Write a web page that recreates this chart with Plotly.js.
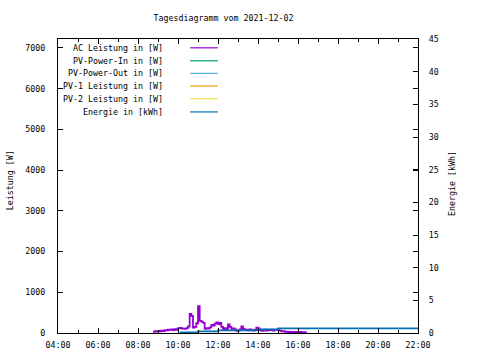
<!DOCTYPE html>
<html>
<head>
<meta charset="utf-8">
<script src="https://cdn.plot.ly/plotly-3.0.1.min.js"></script>
<style>html,body{margin:0;padding:0;background:#fff}#chart{width:480px;height:360px}</style>
</head>
<body>
<div id="chart"></div>
<script>
// ---- data ----
var day = "2021-12-02 ";
var acTimes = ["08:45","08:50","08:55","09:00","09:05","09:10","09:15","09:20","09:25","09:30","09:35","09:40","09:45","09:50","09:55",
  "10:00","10:05","10:10","10:15","10:20","10:25","10:30","10:35","10:40","10:45","10:50","10:55",
  "11:00","11:05","11:10","11:15","11:20","11:25","11:30","11:35","11:40","11:45","11:50","11:55",
  "12:00","12:05","12:10","12:15","12:20","12:25","12:30","12:35","12:40","12:45","12:50","12:55",
  "13:00","13:05","13:10","13:15","13:20","13:25","13:30","13:35","13:40","13:45","13:50","13:55",
  "14:00","14:05","14:10","14:15","14:20","14:25","14:30","14:35","14:40","14:45","14:50","14:55",
  "15:00","15:05","15:10","15:15","15:20","15:25","15:30","15:35","15:40","15:45","15:50","15:55",
  "16:00","16:05","16:10","16:15","16:20","16:25"];
var acPower = [30,45,35,50,40,55,45,70,65,80,75,90,70,95,80,
  120,125,110,105,100,120,160,470,420,130,150,240,
  660,300,280,250,100,120,110,140,200,180,230,260,
  220,250,150,90,120,80,210,150,100,110,90,50,
  60,90,160,100,70,80,65,90,70,60,80,130,
  110,70,50,60,80,60,75,70,80,60,75,85,
  70,60,40,45,30,35,25,30,20,25,20,30,
  20,25,15,20,15,10];
var energyTimes = ["10:05","11:00","12:00","14:00","15:00","22:00"];
var energyKWh = [0.10,0.26,0.41,0.56,0.71,0.71];
var pvInTimes = [], pvInPower = [];
var pvOutTimes = [], pvOutPower = [];
var pv1Times = [], pv1Power = [];
var pv2Times = [], pv2Power = [];

var seriesNames = ["AC Leistung in [W]","PV-Power-In in [W]","PV-Power-Out in [W]","PV-1 Leistung in [W]","PV-2 Leistung in [W]","Energie in [kWh]"];
var seriesColors = ["#9400d3","#009e73","#56b4e9","#e69f00","#f0e442","#0072b2"];
var yTickVals = [0,1000,2000,3000,4000,5000,6000,7000];
var y2TickVals = [0,5,10,15,20,25,30,35,40,45];

function ts(arr){ return arr.map(function(t){ return day + t; }); }

var FONT = "DejaVu Sans Mono, Liberation Mono, monospace";
var fs = 8.3;

var seriesX = [ts(acTimes), ts(pvInTimes), ts(pvOutTimes), ts(pv1Times), ts(pv2Times), ts(energyTimes)];
var seriesY = [acPower, pvInPower, pvOutPower, pv1Power, pv2Power, energyKWh];

var traces = [];
for (var i = 0; i < seriesNames.length; i++) {
  traces.push({
    type: "scatter", mode: "lines",
    x: seriesX[i], y: seriesY[i],
    name: seriesNames[i],
    yaxis: i === 5 ? "y2" : "y",
    line: {color: seriesColors[i], width: i === 5 ? 1.8 : 1.8, shape: "hv"},
    showlegend: false, hoverinfo: "skip"
  });
}

// gnuplot-style key: right-aligned text, sample line to the right
var annotations = [], shapes = [];
var rowY = [0.970, 0.926, 0.883, 0.840, 0.797, 0.752];
for (var j = 0; j < seriesNames.length; j++) {
  annotations.push({xref:"paper", yref:"paper", x:0.298, y:rowY[j], xanchor:"right", yanchor:"middle",
    text: seriesNames[j], showarrow:false, font:{family:FONT, size:fs, color:"#000"}});
  shapes.push({type:"line", xref:"paper", yref:"paper", x0:0.367, x1:0.444, y0:rowY[j], y1:rowY[j],
    line:{color:seriesColors[j], width:1.2}});
}
annotations.push({xref:"paper", yref:"paper", x:-0.133, y:0.52, xanchor:"center", yanchor:"middle", textangle:-90,
  text:"Leistung [W]", showarrow:false, font:{family:FONT, size:fs, color:"#000"}});
annotations.push({xref:"paper", yref:"paper", x:1.094, y:0.51, xanchor:"center", yanchor:"middle", textangle:-90,
  text:"Energie [kWh]", showarrow:false, font:{family:FONT, size:fs, color:"#000"}});

var layout = {
  width: 480, height: 360,
  margin: {l:58, r:62, t:39, b:27, pad:0},
  paper_bgcolor: "#fff", plot_bgcolor: "#fff",
  showlegend: false,
  title: {text:"Tagesdiagramm vom 2021-12-02", font:{family:FONT, size:fs, color:"#000"},
    x:223.5/480, xanchor:"center", y:1-18/360, yref:"container", yanchor:"middle"},
  xaxis: {type:"date", range:[day+"04:00", day+"22:00"], dtick:7200000, tick0:day+"04:00",
    tickformat:"%H:%M", ticks:"inside", ticklen:5, tickwidth:1, tickcolor:"#000",
    minor:{dtick:3600000, ticks:"inside", ticklen:3, tickcolor:"#000"},
    showline:true, linecolor:"#000", linewidth:1, mirror:"ticks", showgrid:false, zeroline:false,
    tickfont:{family:FONT, size:fs, color:"#000"}, ticklabelstandoff:4, fixedrange:true},
  yaxis: {range:[0,7220], tickvals:yTickVals, ticktext:yTickVals.map(String),
    ticks:"inside", ticklen:5, tickcolor:"#000", showline:true, linecolor:"#000", linewidth:1, mirror:"ticks",
    showgrid:false, zeroline:false, tickfont:{family:FONT, size:fs, color:"#000"}, ticklabelstandoff:10},
  yaxis2: {range:[0,45], tickvals:y2TickVals, ticktext:y2TickVals.map(String), overlaying:"y", side:"right",
    ticks:"inside", ticklen:5, tickcolor:"#000", showline:true, linecolor:"#000", linewidth:1,
    showgrid:false, zeroline:false, tickfont:{family:FONT, size:fs, color:"#000"}, ticklabelstandoff:8},
  annotations: annotations,
  shapes: shapes
};

Plotly.newPlot("chart", traces, layout, {staticPlot:true, displayModeBar:false});
</script>
</body>
</html>
